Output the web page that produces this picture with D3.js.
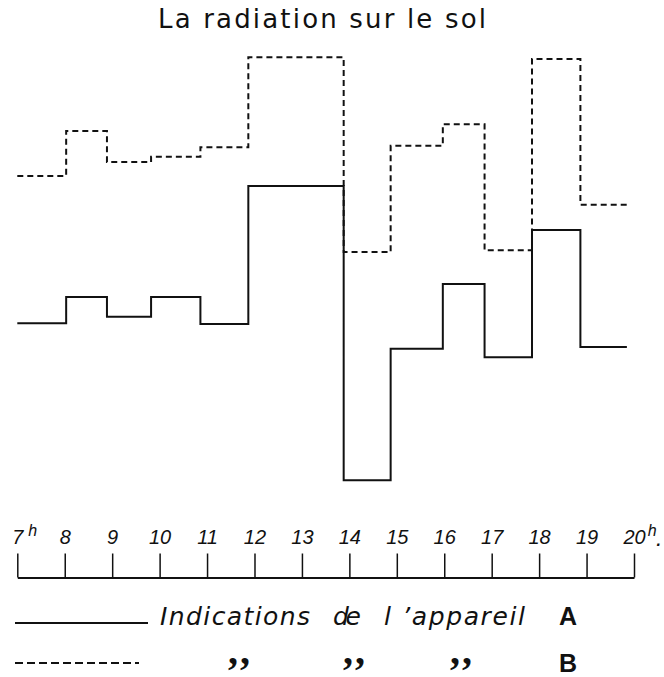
<!DOCTYPE html>
<html>
<head>
<meta charset="utf-8">
<script src="https://cdn.jsdelivr.net/npm/d3@7"></script>
<style>
  body { margin: 0; background: #fff; }
  svg { display: block; }
</style>
</head>
<body>
<div id="chart"></div>
<script>
// Step start times (hours) and end of last step
var stepHours = [7, 8.03, 8.89, 9.82, 10.86, 11.87, 13.88, 14.87, 15.97, 16.85, 17.85, 18.87];
var endHour = 19.85;

// Radiation (arbitrary units) for apparatus A (solid) and B (dashed)
var seriesA = [39.3, 45.1, 40.7, 45.1, 39.1, 69.8, 4.4, 33.6, 48.0, 31.7, 60.0, 34.0];
var seriesB = [72.0, 82.0, 75.1, 76.3, 78.4, 98.4, 55.1, 78.7, 83.5, 55.5, 98.0, 65.6];

// Hour axis
var tickHours = [7, 8, 9, 10, 11, 12, 13, 14, 15, 16, 17, 18, 19, 20];
var tickLabels = ["7", "8", "9", "10", "11", "12", "13", "14", "15", "16", "17", "18", "19", "20"];

var svgWidth = 664;
var svgHeight = 677;

var svg = d3.select("#chart")
  .append("svg")
  .attr("width", svgWidth)
  .attr("height", svgHeight);

// scales
var xScale = d3.scaleLinear()
  .domain([7, 20])
  .range([17.3, 634]);

var yScale = d3.scaleLinear()
  .domain([0, 100])
  .range([500, 50]);

// title
svg.append("text")
  .attr("x", 322)
  .attr("y", 28)
  .attr("text-anchor", "middle")
  .attr("font-family", "DejaVu Sans, sans-serif")
  .attr("font-size", 26)
  .attr("textLength", 328)
  .attr("lengthAdjust", "spacing")
  .attr("fill", "#111")
  .text("La radiation sur le sol");

// step lines
function stepPoints(values) {
  var pts = values.map(function(v, i) { return [stepHours[i], v]; });
  pts.push([endHour, values[values.length - 1]]);
  return pts;
}

var line = d3.line()
  .x(d => xScale(d[0]))
  .y(d => yScale(d[1]))
  .curve(d3.curveStepAfter);

svg.append("path")
  .datum(stepPoints(seriesA))
  .attr("d", line)
  .attr("fill", "none")
  .attr("stroke", "#111")
  .attr("stroke-width", 2);

svg.append("path")
  .datum(stepPoints(seriesB))
  .attr("d", line)
  .attr("fill", "none")
  .attr("stroke", "#111")
  .attr("stroke-width", 2)
  .attr("stroke-dasharray", "6,4");

// hour axis (ticks point up, labels above)
var xAxis = d3.axisTop(xScale)
  .tickValues(tickHours)
  .tickFormat((d, i) => tickLabels[i])
  .tickSizeInner(24)
  .tickSizeOuter(0)
  .tickPadding(10);

var axisG = svg.append("g")
  .attr("transform", "translate(0, 577.5)")
  .call(xAxis);

axisG.select(".domain")
  .attr("stroke", "#111")
  .attr("stroke-width", 2);

axisG.selectAll(".tick line")
  .attr("stroke", "#111")
  .attr("stroke-width", 1.5);

axisG.selectAll(".tick text")
  .attr("font-family", "Liberation Sans, sans-serif")
  .attr("font-style", "italic")
  .attr("font-size", 20)
  .attr("fill", "#111");

// first and last hour get a raised "h" inside the same label
axisG.selectAll(".tick text")
  .filter(d => d === 7 || d === 20)
  .each(function(d) {
    var t = d3.select(this);
    var w = this.getComputedTextLength();
    t.attr("text-anchor", "start").attr("x", -w / 2);
    t.append("tspan")
      .attr("dx", d === 7 ? 5 : 2)
      .attr("dy", -8)
      .attr("font-size", 16)
      .text("h");
    if (d === 20) {
      t.append("tspan")
        .attr("dx", 0)
        .attr("dy", 10)
        .attr("font-size", 16)
        .attr("font-weight", "bold")
        .text(".");
    }
  });

// legend
var legend = svg.append("g");

legend.append("line")
  .attr("x1", 15).attr("x2", 148)
  .attr("y1", 623).attr("y2", 623)
  .attr("stroke", "#111")
  .attr("stroke-width", 2);

legend.append("line")
  .attr("x1", 15).attr("x2", 139)
  .attr("y1", 663).attr("y2", 663)
  .attr("stroke", "#111")
  .attr("stroke-width", 2)
  .attr("stroke-dasharray", "8,4");

var legendWords = [
  { text: "Indications", x: 160, w: 150 },
  { text: "de", x: 333, w: 28 },
  { text: "l \u2019appareil", x: 384, w: 141 }
];

legend.selectAll("text.word")
  .data(legendWords)
  .enter()
  .append("text")
  .attr("class", "word")
  .attr("x", d => d.x)
  .attr("y", 625)
  .attr("font-family", "DejaVu Sans, sans-serif")
  .attr("font-style", "italic")
  .attr("font-size", 25)
  .attr("textLength", d => d.w)
  .attr("lengthAdjust", "spacing")
  .attr("fill", "#111")
  .text(d => d.text);

legend.append("text")
  .attr("x", 568)
  .attr("y", 625)
  .attr("text-anchor", "middle")
  .attr("font-family", "Liberation Sans, sans-serif")
  .attr("font-weight", "bold")
  .attr("font-size", 25)
  .attr("fill", "#111")
  .text("A");

legend.append("text")
  .attr("x", 568)
  .attr("y", 672)
  .attr("text-anchor", "middle")
  .attr("font-family", "Liberation Sans, sans-serif")
  .attr("font-weight", "bold")
  .attr("font-size", 25)
  .attr("fill", "#111")
  .text("B");

// ditto marks under the legend words
legend.selectAll("text.ditto")
  .data([240, 355, 462])
  .enter()
  .append("text")
  .attr("class", "ditto")
  .attr("x", d => d)
  .attr("y", 664)
  .attr("text-anchor", "middle")
  .attr("font-family", "Liberation Serif, serif")
  .attr("font-weight", "bold")
  .attr("font-size", 40)
  .attr("letter-spacing", 2)
  .attr("fill", "#111")
  .text(",,");
</script>
</body>
</html>
